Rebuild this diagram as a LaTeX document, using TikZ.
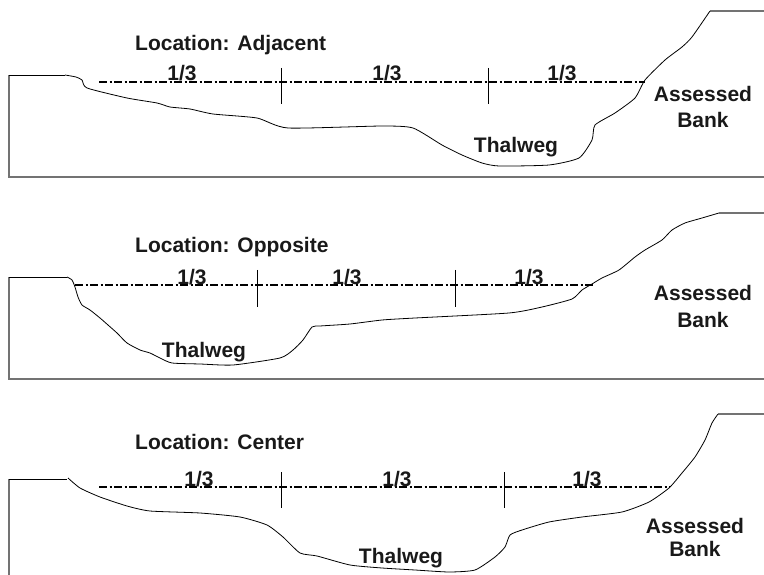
\documentclass[tikz,border=0pt]{standalone}
\usepackage{fontspec}
\setmainfont{Liberation Sans}
\usetikzlibrary{calc}
\tikzset{x=1pt,y=-1pt}
\tikzset{
  bed/.style={line width=0.8pt, black},
  frame/.style={line width=1.1pt, black!55},
  waterline/.style={line width=1.1pt, black, dash pattern=on 8pt off 2.5pt on 2pt off 2.5pt},
  third/.style={line width=0.8pt, black},
  lbl/.style={font=\fontsize{21}{23}\selectfont\bfseries, text=black!90, inner sep=0pt},
}
\def\xend{764}

\begin{document}
\begin{tikzpicture}

\useasboundingbox (0,0) rectangle (764,575);

%% Location: Adjacent
\node[lbl, anchor=base west] (locA) at (135,51) {Location: Adjacent};

\draw[frame] (9,75) -- (9,177) -- (\xend,177);
\draw[frame] (710,11) -- (\xend,11);
\draw[bed] (9,75) -- (65,75);
\draw[bed] plot[smooth, tension=0.35] coordinates {(65,75) (76,77) (82,80) (87,88) (127,98) (157,103) (170,107) (190,109) (213,114) (257,118) (288,128) (382,126) (413,128) (442,145) (462,155) (482,163) (499,166) (549,165) (579,158) (592,140) (595,125) (615,113) (635,98) (645,80) (665,60) (682,47) (692,37) (710,11)};

\coordinate (wlA) at (99,82);
\coordinate (wrA) at (645,82);
\draw[waterline] (wlA) -- (wrA);
\draw[third] (281,68) -- (281,104);
\draw[third] (488,68) -- (488,104);

\node[lbl, anchor=base] (A1) at (182,81) {1/3};
\node[lbl, anchor=base] (A2) at (387,81) {1/3};
\node[lbl, anchor=base] (A3) at (562,81) {1/3};

\node[lbl, anchor=base] (thalA) at (516,153) {Thalweg};
\node[lbl, anchor=base] (bankA) at (703,102) {Assessed};
\node[lbl, anchor=base] (bankA2) at (703,128) {Bank};

%% Location: Opposite
\node[lbl, anchor=base west] (locO) at (135,253) {Location: Opposite};

\draw[frame] (9,277) -- (9,379) -- (\xend,379);
\draw[frame] (719,213) -- (\xend,213);
\draw[bed] (9,277) -- (67,277);
\draw[bed] plot[smooth, tension=0.35] coordinates {(67,277) (72,280) (75,287) (78,297) (82,305) (90,310) (100,318) (108,325) (117,333) (127,343) (140,350) (150,353) (160,358) (172,363) (200,364) (233,365) (280,358) (293,350) (303,340) (312,327) (320,326) (350,324) (382,320) (415,318) (509,313) (542,307) (572,299) (582,290) (592,284) (602,278) (619,270) (635,257) (645,250) (662,240) (672,230) (685,223) (702,218) (719,213)};

\coordinate (wlO) at (75,285);
\coordinate (wrO) at (594,285);
\draw[waterline] (wlO) -- (wrO);
\draw[third] (257,270) -- (257,307);
\draw[third] (455,270) -- (455,307);

\node[lbl, anchor=base] (O1) at (192,284) {1/3};
\node[lbl, anchor=base] (O2) at (347,284) {1/3};
\node[lbl, anchor=base] (O3) at (529,284) {1/3};

\node[lbl, anchor=base] (thalO) at (204,357) {Thalweg};
\node[lbl, anchor=base] (bankO) at (703,301) {Assessed};
\node[lbl, anchor=base] (bankO2) at (703,327) {Bank};

%% Location: Center
\node[lbl, anchor=base west] (locC) at (135,449) {Location: Center};

\draw[frame] (9,479) -- (9,575);
\draw[frame] (718,414) -- (\xend,414);
\draw[bed] (9,479) -- (67,479);
\draw[bed] plot[smooth, tension=0.35] coordinates {(68,478) (80,488) (100,497) (127,506) (150,511) (200,513) (240,517) (267,525) (283,537) (300,553) (317,556) (350,565) (382,568) (415,570) (449,572) (475,570) (495,557) (505,547) (510,535) (522,530) (549,522) (582,517) (622,512) (649,502) (669,488) (682,473) (695,457) (705,440) (712,423) (718,414)};

\coordinate (wlC) at (99,487);
\coordinate (wrC) at (670,487);
\draw[waterline] (wlC) -- (wrC);
\draw[third] (281,472) -- (281,508);
\draw[third] (504,472) -- (504,508);

\node[lbl, anchor=base] (C1) at (199,486) {1/3};
\node[lbl, anchor=base] (C2) at (397,486) {1/3};
\node[lbl, anchor=base] (C3) at (587,486) {1/3};

\node[lbl, anchor=base] (thalC) at (401,563) {Thalweg};
\node[lbl, anchor=base] (bankC) at (695,533) {Assessed};
\node[lbl, anchor=base] (bankC2) at (695,556) {Bank};

\end{tikzpicture}
\end{document}
